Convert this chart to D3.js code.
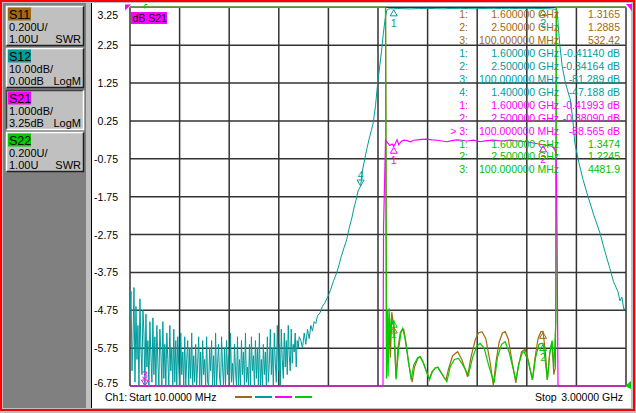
<!DOCTYPE html>
<html>
<head>
<meta charset="utf-8">
<title>S-parameter sweep</title>
<style>
    body {
        margin: 0;
        background: #c0c0c0;
    }

    svg {
        display: block;
        font-family: "Liberation Sans", Arial, sans-serif;
        font-size: 10.5px;
    }

    .grid line {
        stroke: #333;
        stroke-width: 1.5;
    }

    .panel text {
        font-size: 11px;
    }

    .trace {
        fill: none;
        stroke-width: 1.2;
        stroke-linejoin: miter;
    }

    .noise {
        stroke-width: 1;
    }

    .marker {
        fill: none;
        stroke-width: 1;
    }
</style>
<script src="https://d3js.org/d3.v7.min.js"></script>
</head>
<body>
<script type="text/javascript">
    // sweep and display settings
    var startGHz = 0.01, stopGHz = 3.0;
    var yTickLabels = ["3.25", "2.25", "1.25", "0.25", "-0.75", "-1.75", "-2.75", "-3.75", "-4.75", "-5.75", "-6.75"];

    var channelNames = ["S11", "S12", "S21", "S22"];
    var channelScaleText = ["0.200U/", "10.00dB/", "1.000dB/", "0.200U/"];
    var channelRefText = ["1.00U", "0.00dB", "3.25dB", "1.00U"];
    var channelFormat = ["SWR", "LogM", "LogM", "SWR"];
    var activeChannel = "S21";

    // bottom / top of each display, from the scale and reference of each channel
    var s11Range = [1.0, 3.0];
    var s12Range = [-100, 0];
    var s21Range = [-6.75, 3.25];
    var s22Range = [1.0, 3.0];

    // S12, 10 dB/div: noise floor read point by point, 6 MHz per point from 10 MHz
    var s12NoiseStepGHz = 0.006;
    var s12NoiseDb = [
        -82, -75, -96, -88, -74, -99, -79, -93, -84, -101, -77, -90, -97, -80, -86, -100,
        -81, -95, -88, -103, -83, -92, -99, -82, -97, -87, -104, -84, -94, -100, -85, -91, -102,
        -83, -98, -89, -105, -86, -93, -101, -84, -96, -90, -103, -85, -99, -88, -104, -87, -95, -100,
        -86, -97, -91, -105, -87, -100, -93, -88, -103, -90,
        -98, -86, -106, -92, -99, -89, -104, -94, -87, -101,
        -91, -107, -88, -97, -93, -102, -87, -99, -105, -90,
        -96, -88, -103, -92, -100, -86, -106, -94, -89, -98,
        -104, -87, -95, -101, -90, -107, -88, -97, -92, -103,
        -86, -99, -94, -105, -89, -96, -102, -87, -100, -93,
        -106, -88, -97, -91, -104, -86, -99, -95, -103, -89,
        -101, -87, -96, -92, -105, -88, -98, -90, -103, -86,
        -100, -93, -106, -89, -97, -91, -102, -87, -99, -94,
        -85, -97, -90, -101, -86, -94, -99, -84, -96, -89,
        -100, -85, -93, -98, -86, -95, -88, -97, -84, -92,
        -96, -85, -94, -89, -91, -86, -95, -88, -90, -87
    ];
    // S12 skirts and passband [GHz, dB]
    var s12Db = [
        [1.04, -88], [1.05, -90], [1.06, -86], [1.07, -89], [1.08, -85], [1.09, -87.5],
        [1.10, -84], [1.11, -85.5], [1.12, -83], [1.13, -83.5], [1.14, -81.5], [1.155, -80.7],
        [1.17, -79], [1.185, -78], [1.203, -76.4], [1.22, -74.5], [1.235, -72.5], [1.256, -70.1],
        [1.27, -68], [1.282, -66], [1.30, -63.5], [1.316, -61.4], [1.33, -58.5], [1.348, -55.5],
        [1.36, -53], [1.372, -51], [1.385, -48.5], [1.40, -47.19], [1.412, -43], [1.426, -39.8],
        [1.44, -37], [1.45, -35], [1.465, -32.5], [1.476, -30.6], [1.49, -26], [1.503, -20],
        [1.517, -15], [1.527, -11.3], [1.537, -7], [1.547, -3.4], [1.557, -0.9], [1.565, -0.45],
        [1.58, -0.38], [1.60, -0.41], [1.62, -0.30], [1.65, -0.36], [1.70, -0.42], [1.75, -0.33],
        [1.80, -0.28], [1.85, -0.35], [1.90, -0.40], [1.95, -0.31], [2.00, -0.27], [2.05, -0.34],
        [2.10, -0.39], [2.15, -0.30], [2.20, -0.26], [2.25, -0.33], [2.30, -0.38], [2.35, -0.29],
        [2.40, -0.27], [2.45, -0.31], [2.50, -0.34], [2.55, -0.40], [2.575, -0.55], [2.585, -0.9],
        [2.590, -4], [2.600, -9.5], [2.615, -15.5], [2.635, -20], [2.665, -24.5], [2.68, -30],
        [2.692, -36], [2.716, -41], [2.741, -45.5], [2.771, -50], [2.807, -55], [2.843, -59.6],
        [2.873, -64.5], [2.903, -69], [2.925, -72.5], [2.951, -75], [2.963, -77.5], [2.975, -76.5],
        [2.988, -80], [3.0, -79]
    ];

    // S21, 1 dB/div [GHz, dB]
    var s21Db = [
        [0.01, -90], [1.535, -90], [1.5385, -2.55], [1.5505, -0.25], [1.556, -0.30], [1.565, -0.34],
        [1.575, -0.40], [1.590, -0.36], [1.600, -0.42], [1.61, -0.34], [1.62, -0.25], [1.63, -0.38],
        [1.645, -0.29], [1.66, -0.26], [1.68, -0.27], [1.70, -0.30], [1.72, -0.26], [1.745, -0.25],
        [1.77, -0.24], [1.80, -0.23], [1.83, -0.25], [1.86, -0.26], [1.89, -0.28], [1.92, -0.30],
        [1.95, -0.27], [1.98, -0.25], [2.01, -0.26], [2.04, -0.28], [2.08, -0.26], [2.12, -0.30],
        [2.16, -0.27], [2.20, -0.26], [2.25, -0.28], [2.30, -0.26], [2.35, -0.28], [2.40, -0.30],
        [2.45, -0.34], [2.50, -0.38], [2.53, -0.40], [2.555, -0.42], [2.57, -0.50], [2.578, -0.60],
        [2.582, -1.65], [2.585, -3.1], [2.59, -90], [3.0, -90]
    ];

    // S11 and S22, SWR 0.2/div [GHz, SWR]
    var s11Swr = [
        [0.01, 50], [1.551, 50], [1.557, 1.06], [1.563, 1.38], [1.568, 1.12], [1.574, 1.36],
        [1.580, 1.15], [1.588, 1.39], [1.600, 1.3165], [1.607, 1.17], [1.614, 1.042], [1.625, 1.20],
        [1.640, 1.285], [1.660, 1.299], [1.672, 1.24], [1.690, 1.12], [1.711, 1.021], [1.725, 1.10],
        [1.745, 1.145], [1.759, 1.155], [1.775, 1.13], [1.795, 1.08], [1.815, 1.037], [1.830, 1.075],
        [1.850, 1.095], [1.865, 1.099], [1.880, 1.08], [1.900, 1.05], [1.915, 1.032], [1.930, 1.09],
        [1.955, 1.16], [1.985, 1.181], [2.010, 1.14], [2.030, 1.09], [2.045, 1.049], [2.065, 1.15],
        [2.090, 1.24], [2.110, 1.28], [2.132, 1.287], [2.155, 1.25], [2.180, 1.13], [2.200, 1.005],
        [2.215, 1.12], [2.235, 1.23], [2.255, 1.28], [2.272, 1.287], [2.290, 1.25], [2.315, 1.12],
        [2.336, 1.016], [2.350, 1.10], [2.370, 1.18], [2.392, 1.194], [2.410, 1.14], [2.436, 1.032],
        [2.450, 1.14], [2.470, 1.25], [2.487, 1.287], [2.500, 1.2885], [2.515, 1.17], [2.526, 1.032],
        [2.540, 1.17], [2.553, 1.234], [2.565, 1.06], [2.574, 1.10], [2.577, 1.5], [2.580, 50],
        [3.0, 50]
    ];
    var s22Swr = [
        [0.01, 50], [1.550, 50], [1.556, 1.04], [1.562, 1.40], [1.566, 1.05], [1.572, 1.41],
        [1.578, 1.25], [1.585, 1.36], [1.592, 1.33], [1.600, 1.3474], [1.607, 1.20], [1.614, 1.035],
        [1.630, 1.20], [1.645, 1.29], [1.654, 1.305], [1.668, 1.25], [1.690, 1.12], [1.705, 1.032],
        [1.720, 1.11], [1.745, 1.15], [1.759, 1.155], [1.780, 1.12], [1.815, 1.032], [1.830, 1.07],
        [1.850, 1.095], [1.865, 1.099], [1.885, 1.07], [1.920, 1.022], [1.940, 1.10], [1.965, 1.14],
        [1.990, 1.146], [2.010, 1.12], [2.050, 1.058], [2.075, 1.15], [2.100, 1.21], [2.120, 1.225],
        [2.145, 1.20], [2.175, 1.10], [2.205, 1.016], [2.225, 1.15], [2.250, 1.22], [2.272, 1.234],
        [2.295, 1.18], [2.336, 1.032], [2.355, 1.12], [2.375, 1.175], [2.386, 1.181], [2.410, 1.13],
        [2.436, 1.032], [2.455, 1.15], [2.475, 1.22], [2.487, 1.225], [2.500, 1.2245], [2.515, 1.12],
        [2.526, 1.032], [2.540, 1.17], [2.555, 1.24], [2.565, 1.10], [2.577, 1.34], [2.580, 3.5],
        [3.0, 50]
    ];

    // markers
    var markerFreqGHz = [1.6, 2.5, 0.1, 1.4];
    var markerFreqText = ["1.600000 GHz", "2.500000 GHz", "100.000000 MHz", "1.400000 GHz"];
    var s11MarkerVals = [1.3165, 1.2885, 532.42];
    var s12MarkerVals = [-0.41140, -0.34164, -81.289, -47.188];
    var s21MarkerVals = [-0.41993, -0.38090, -88.565];
    var s22MarkerVals = [1.3474, 1.2245, 4481.9];
    var s11MarkerText = ["1.3165", "1.2885", "532.42"];
    var s12MarkerText = ["-0.41140 dB", "-0.34164 dB", "-81.289 dB", "-47.188 dB"];
    var s21MarkerText = ["-0.41993 dB", "-0.38090 dB", "-88.565 dB"];
    var s22MarkerText = ["1.3474", "1.2245", "4481.9"];
    var activeMarker = 3;

    var colors = {S11: "#a06a10", S12: "#009c9c", S21: "#ff00ff", S22: "#00cc00"};
    var textColors = {S11: "#a06a10", S12: "#009c9c", S21: "#ff00ff", S22: "#00c000"};

    var W = 636, H = 413;
    var plot = {left: 130, top: 7.3, right: 626, bottom: 386};

    var svg = d3.select("body").append("svg")
            .attr("width", W)
            .attr("height", H);

    // window chrome
    svg.append("rect").attr("width", W).attr("height", H).attr("fill", "#c0c0c0");
    svg.append("rect").attr("x", 3).attr("y", 3).attr("width", 83).attr("height", 405).attr("fill", "#808080");
    svg.append("rect").attr("x", 91).attr("y", 3).attr("width", 540).attr("height", 405).attr("fill", "#fff");
    svg.append("line").attr("x1", 91.5).attr("x2", 91.5).attr("y1", 3).attr("y2", 408).attr("stroke", "#000");
    svg.append("rect").attr("x", 1).attr("y", 1).attr("width", 633).attr("height", 409)
            .attr("fill", "none").attr("stroke", "#ff0000").attr("stroke-width", 2);

    // channel buttons
    var panel = svg.append("g").attr("class", "panel");
    channelNames.forEach(function (name, i) {
        var bx = 6, by = 6 + i * 42, bw = 78, bh = 40;
        var pressed = name === activeChannel;
        var g = panel.append("g").attr("transform", "translate(" + bx + "," + by + ")");
        g.append("rect").attr("width", bw).attr("height", bh).attr("fill", "#c0c0c0");
        var lt = pressed ? "#404040" : "#fff", rb = pressed ? "#fff" : "#202020";
        g.append("path").attr("d", "M0.5," + (bh - 0.5) + "V0.5H" + (bw - 0.5))
                .attr("fill", "none").attr("stroke", lt).attr("stroke-width", 1.5);
        g.append("path").attr("d", "M0.5," + (bh - 0.5) + "H" + (bw - 0.5) + "V0.5")
                .attr("fill", "none").attr("stroke", rb).attr("stroke-width", 1.5);
        g.append("rect").attr("x", 2).attr("y", 1.5).attr("width", 23).attr("height", 13)
                .attr("fill", colors[name]);
        g.append("text").attr("x", 3).attr("y", 12.5).style("font-size", "12.5px").text(name);
        g.append("text").attr("x", 3).attr("y", 25).text(channelScaleText[i]);
        g.append("text").attr("x", 3).attr("y", 36.5).text(channelRefText[i]);
        g.append("text").attr("x", 75).attr("y", 36.5).attr("text-anchor", "end").text(channelFormat[i]);
    });

    // scales
    var x = d3.scaleLinear().domain([startGHz, stopGHz]).range([plot.left, plot.right]);

    function traceScale(range) {
        return d3.scaleLinear().domain(range).range([plot.bottom, plot.top]).clamp(true);
    }

    var yDisplay = traceScale(s21Range);
    var yS11 = traceScale(s11Range), yS12 = traceScale(s12Range),
        yS21 = traceScale(s21Range), yS22 = traceScale(s22Range);

    // grid
    var grid = svg.append("g").attr("class", "grid");
    var xDivs = d3.range(11).map(function (i) {
        return startGHz + i * (stopGHz - startGHz) / 10;
    });
    grid.selectAll("line.v").data(xDivs).enter().append("line")
            .attr("class", "v")
            .attr("x1", function (d) { return x(d); })
            .attr("x2", function (d) { return x(d); })
            .attr("y1", plot.top).attr("y2", plot.bottom);
    grid.selectAll("line.h").data(yTickLabels).enter().append("line")
            .attr("class", "h")
            .attr("x1", plot.left).attr("x2", plot.right)
            .attr("y1", function (d) { return yDisplay(+d); })
            .attr("y2", function (d) { return yDisplay(+d); });

    svg.append("g").selectAll("text").data(yTickLabels).enter().append("text")
            .attr("x", 118)
            .attr("text-anchor", "end")
            .attr("y", function (d) {
                return Math.min(Math.max(yDisplay(+d), 15), 383) + 4;
            })
            .text(function (d) { return d; });

    // traces
    var body = svg.append("g");

    function drawTrace(data, yScale, name, cls) {
        body.append("path")
                .datum(data)
                .attr("class", "trace " + (cls || ""))
                .attr("stroke", colors[name])
                .attr("d", d3.line()
                        .x(function (d) { return x(d[0]); })
                        .y(function (d) { return yScale(d[1]); }));
    }

    var s12Noise = s12NoiseDb.map(function (v, i) {
        return [startGHz + i * s12NoiseStepGHz, v];
    });
    drawTrace(s12Noise.concat(s12Db), yS12, "S12", "noise");
    drawTrace(s11Swr, yS11, "S11");
    drawTrace(s22Swr, yS22, "S22");
    drawTrace(s21Db, yS21, "S21");

    // marker symbols: triangle tip on the trace, number beside it
    function drawMarker(name, yScale, vals, idx, down, noLabel) {
        var mx = x(markerFreqGHz[idx - 1]), my = yScale(vals[idx - 1]);
        var g = body.append("g").attr("fill", colors[name]);
        if (down) {
            g.append("path").attr("class", "marker").attr("stroke", colors[name])
                    .attr("d", "M" + mx + "," + my + "l-3.5,-6h7z");
            g.append("text").attr("x", mx).attr("y", my - 7).attr("text-anchor", "middle").text(idx);
        } else {
            g.append("path").attr("class", "marker").attr("stroke", colors[name])
                    .attr("d", "M" + mx + "," + (my + 1) + "l-3.5,6h7z");
            if (!noLabel)
                g.append("text").attr("x", mx).attr("y", my + 18).attr("text-anchor", "middle").text(idx);
        }
    }

    drawMarker("S12", yS12, s12MarkerVals, 1);
    drawMarker("S12", yS12, s12MarkerVals, 2);
    drawMarker("S12", yS12, s12MarkerVals, 4, true);
    drawMarker("S11", yS11, s11MarkerVals, 1, false, true);
    drawMarker("S11", yS11, s11MarkerVals, 2, false, true);
    drawMarker("S22", yS22, s22MarkerVals, 1);
    drawMarker("S22", yS22, s22MarkerVals, 2);
    drawMarker("S21", yS21, s21MarkerVals, 1);
    drawMarker("S21", yS21, s21MarkerVals, 2);
    drawMarker("S21", yS21, s21MarkerVals, 3, true);

    // marker table
    var rows = [];
    [["S11", s11MarkerText], ["S12", s12MarkerText], ["S21", s21MarkerText], ["S22", s22MarkerText]]
            .forEach(function (t) {
                t[1].forEach(function (v, i) {
                    var idx = (i + 1) + ":";
                    if (t[0] === activeChannel && i + 1 === activeMarker) idx = "> " + idx;
                    rows.push({name: t[0], idx: idx, freq: markerFreqText[i], val: v});
                });
            });

    var table = svg.append("g");
    rows.forEach(function (r, i) {
        var ty = 14 + i * 12.95 + 4;
        var c = textColors[r.name];
        table.append("text").attr("x", 468).attr("y", ty).attr("text-anchor", "end").attr("fill", c).text(r.idx);
        table.append("text").attr("x", 559).attr("y", ty).attr("text-anchor", "end").attr("fill", c).text(r.freq);
        table.append("text").attr("x", 620).attr("y", ty).attr("text-anchor", "end").attr("fill", c).text(r.val);
    });

    // active trace label and off-screen indicators
    svg.append("rect").attr("x", 131).attr("y", 12).attr("width", 36).attr("height", 12).attr("fill", colors.S21);
    svg.append("text").attr("x", 132.5).attr("y", 21.5).text("dB S21");
    svg.append("path").attr("d", "M125,4.5h6l-6,6z").attr("fill", colors.S21);
    svg.append("path").attr("d", "M626,4h6v7z").attr("fill", colors.S21);
    svg.append("path").attr("d", "M625,386l6,-5v8z").attr("fill", colors.S22);
    svg.append("path").attr("d", "M" + x(markerFreqGHz[2]) + ",8.5v-4h2.5")
            .attr("fill", "none").attr("stroke", colors.S22);

    // status line
    var statusG = svg.append("g");
    statusG.append("text").attr("x", 105).attr("y", 401).text("Ch1:");
    statusG.append("text").attr("x", 129).attr("y", 401).text("Start");
    statusG.append("text").attr("x", 154).attr("y", 401).text("10.0000 MHz");
    statusG.append("text").attr("x", 535).attr("y", 401).text("Stop");
    statusG.append("text").attr("x", 623).attr("y", 401).attr("text-anchor", "end").text("3.00000 GHz");
    channelNames.forEach(function (name, i) {
        statusG.append("line")
                .attr("x1", 235 + i * 20).attr("x2", 252 + i * 20)
                .attr("y1", 397).attr("y2", 397)
                .attr("stroke", colors[name]).attr("stroke-width", 2);
    });
</script>
</body>
</html>
